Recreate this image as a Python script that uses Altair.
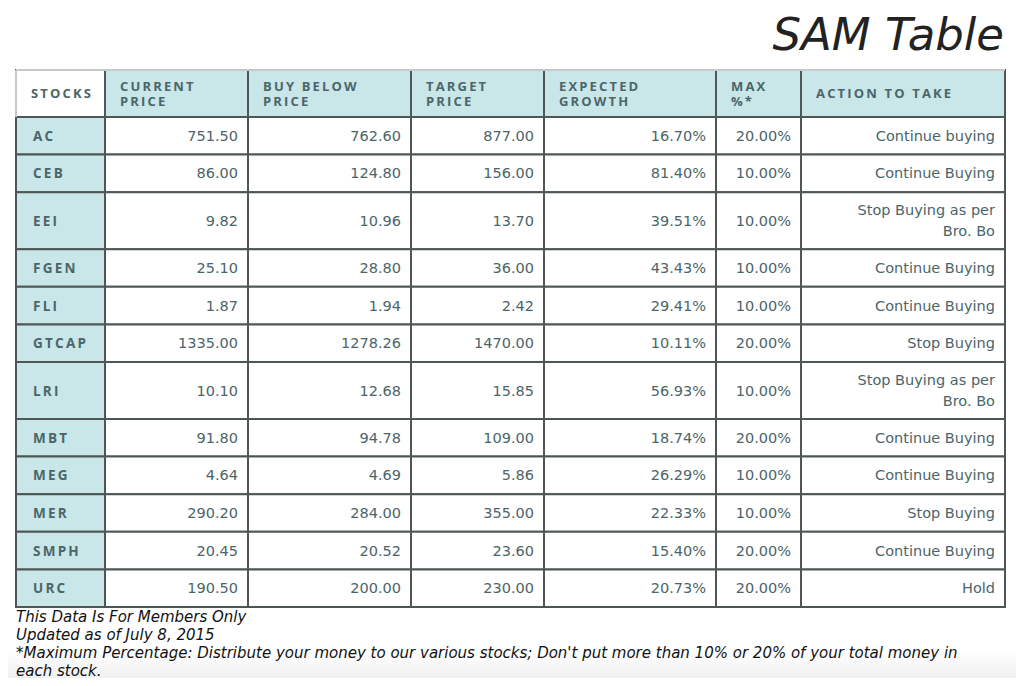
import altair as alt
import pandas as pd

# ---------------- data ----------------
title_text = "SAM Table"
headers = ["STOCKS", "CURRENT\nPRICE", "BUY BELOW\nPRICE", "TARGET\nPRICE",
           "EXPECTED\nGROWTH", "MAX\n%*", "ACTION TO TAKE"]
tickers = ["AC", "CEB", "EEI", "FGEN", "FLI", "GTCAP", "LRI", "MBT", "MEG", "MER", "SMPH", "URC"]
current_price = [751.50, 86.00, 9.82, 25.10, 1.87, 1335.00, 10.10, 91.80, 4.64, 290.20, 20.45, 190.50]
buy_below = [762.60, 124.80, 10.96, 28.80, 1.94, 1278.26, 12.68, 94.78, 4.69, 284.00, 20.52, 200.00]
target_price = [877.00, 156.00, 13.70, 36.00, 2.42, 1470.00, 15.85, 109.00, 5.86, 355.00, 23.60, 230.00]
expected_growth = [16.70, 81.40, 39.51, 43.43, 29.41, 10.11, 56.93, 18.74, 26.29, 22.33, 15.40, 20.73]
max_pct = [20.00, 10.00, 10.00, 10.00, 10.00, 20.00, 10.00, 20.00, 10.00, 10.00, 20.00, 20.00]
actions = ["Continue buying", "Continue Buying", "Stop Buying as per\nBro. Bo", "Continue Buying",
           "Continue Buying", "Stop Buying", "Stop Buying as per\nBro. Bo", "Continue Buying",
           "Continue Buying", "Stop Buying", "Continue Buying", "Hold"]
notes = ["This Data Is For Members Only",
         "Updated as of July 8, 2015",
         "*Maximum Percentage: Distribute your money to our various stocks; Don't put more than 10% or 20% of your total money in",
         "each stock."]

# ---------------- layout (page pixels) ----------------
COL_EDGES = [16, 105, 248, 411, 544, 716, 801, 1005]
TABLE_TOP = 70
HEADER_H = 47
ROW_H = 37.6
TALL_H = 57
PAD_L = 15
PAD_R = 10
HEAD_LH = 15
VAL_LH = 21
TEAL = "#c9e6e9"
TXT = "#4b6569"
BORDER = "#4f5756"


def spaced(s):
    return "\n".join("\u2009".join(line) for line in s.split("\n"))


def first_line_y(center, text, lh):
    n = text.count("\n") + 1
    return center - (n - 1) * lh / 2


cells, head_txt, stock_txt, val_txt = [], [], [], []

# header row
y0, y1 = TABLE_TOP, TABLE_TOP + HEADER_H
for j, h in enumerate(headers):
    cells.append(dict(x=COL_EDGES[j], x2=COL_EDGES[j + 1], y=y0, y2=y1,
                      fill="#ffffff" if j == 0 else TEAL))
    head_txt.append(dict(x=COL_EDGES[j] + PAD_L,
                         y=first_line_y((y0 + y1) / 2 + 0.5, h, HEAD_LH), t=spaced(h)))

# body rows
y = y1
for i, tk in enumerate(tickers):
    h = TALL_H if "\n" in actions[i] else ROW_H
    ya, yb = y, y + h
    c = (ya + yb) / 2 + 1
    vals = [f"{current_price[i]:.2f}", f"{buy_below[i]:.2f}", f"{target_price[i]:.2f}",
            f"{expected_growth[i]:.2f}%", f"{max_pct[i]:.2f}%", actions[i]]
    for j in range(7):
        cells.append(dict(x=COL_EDGES[j], x2=COL_EDGES[j + 1], y=ya, y2=yb,
                          fill=TEAL if j == 0 else "#ffffff"))
    stock_txt.append(dict(x=COL_EDGES[0] + PAD_L + 2, y=c, t=spaced(tk)))
    for j, v in enumerate(vals):
        val_txt.append(dict(x=COL_EDGES[j + 2] - PAD_R, y=first_line_y(c, v, VAL_LH), t=v))
    y = yb

cells_df = pd.DataFrame(cells)
head_df = pd.DataFrame(head_txt)
stock_df = pd.DataFrame(stock_txt)
val_df = pd.DataFrame(val_txt)
# light top edge of the header and left edge of the STOCKS header cell
edges_df = pd.DataFrame([
    dict(x=COL_EDGES[0], x2=COL_EDGES[-1], y=TABLE_TOP, y2=TABLE_TOP),
    dict(x=COL_EDGES[0], x2=COL_EDGES[0], y=TABLE_TOP, y2=TABLE_TOP + HEADER_H),
])
title_df = pd.DataFrame([dict(x=1004, y=50, t=title_text)])
notes_df = pd.DataFrame([dict(x=16, y=622 + 18 * k, t=n) for k, n in enumerate(notes)])
shade_df = pd.DataFrame([dict(x=8, x2=1016, y=650, y2=678)])

X = lambda f="x": alt.X(f"{f}:Q", scale=alt.Scale(domain=[8, 1016], nice=False, zero=False), axis=None)
Y = lambda f="y": alt.Y(f"{f}:Q", scale=alt.Scale(domain=[8, 678], nice=False, zero=False, reverse=True), axis=None)

shade = alt.Chart(shade_df).mark_rect(
    fill=alt.Gradient(gradient="linear", x1=0, y1=0, x2=0, y2=1,
                      stops=[alt.GradientStop(color="#ffffff", offset=0),
                             alt.GradientStop(color="#f0f0f0", offset=1)])
).encode(x=X(), x2="x2:Q", y=Y(), y2="y2:Q")

rects = alt.Chart(cells_df).mark_rect(stroke=BORDER, strokeWidth=2).encode(
    x=X(), x2="x2:Q", y=Y(), y2="y2:Q",
    fill=alt.Fill("fill:N", scale=None))

edges = alt.Chart(edges_df).mark_rule(color="#c8c8c8", strokeWidth=2).encode(
    x=X(), x2="x2:Q", y=Y(), y2="y2:Q")

heads = alt.Chart(head_df).mark_text(
    align="left", baseline="middle", font="Open Sans", fontWeight="bold", fontSize=13,
    lineBreak="\n", lineHeight=HEAD_LH, color=TXT).encode(x=X(), y=Y(), text="t:N")

stocks = alt.Chart(stock_df).mark_text(
    align="left", baseline="middle", font="Open Sans", fontWeight="bold", fontSize=13.5,
    color=TXT).encode(x=X(), y=Y(), text="t:N")

values = alt.Chart(val_df).mark_text(
    align="right", baseline="middle", font="DejaVu Sans", fontSize=14.5,
    lineBreak="\n", lineHeight=VAL_LH, color=TXT).encode(x=X(), y=Y(), text="t:N")

title = alt.Chart(title_df).mark_text(
    align="right", baseline="alphabetic", font="DejaVu Sans", fontStyle="italic",
    fontSize=45, color="#222222").encode(x=X(), y=Y(), text="t:N")

foot = alt.Chart(notes_df).mark_text(
    align="left", baseline="alphabetic", font="DejaVu Sans", fontStyle="italic",
    fontSize=15, color="#111111").encode(x=X(), y=Y(), text="t:N")

chart = alt.layer(shade, rects, edges, heads, stocks, values, title, foot).properties(
    width=1008, height=670, padding=0, autosize="none", background="#ffffff"
).configure_view(stroke=None)

chart.save("out.html", embed_options={"renderer": "svg", "actions": False})
